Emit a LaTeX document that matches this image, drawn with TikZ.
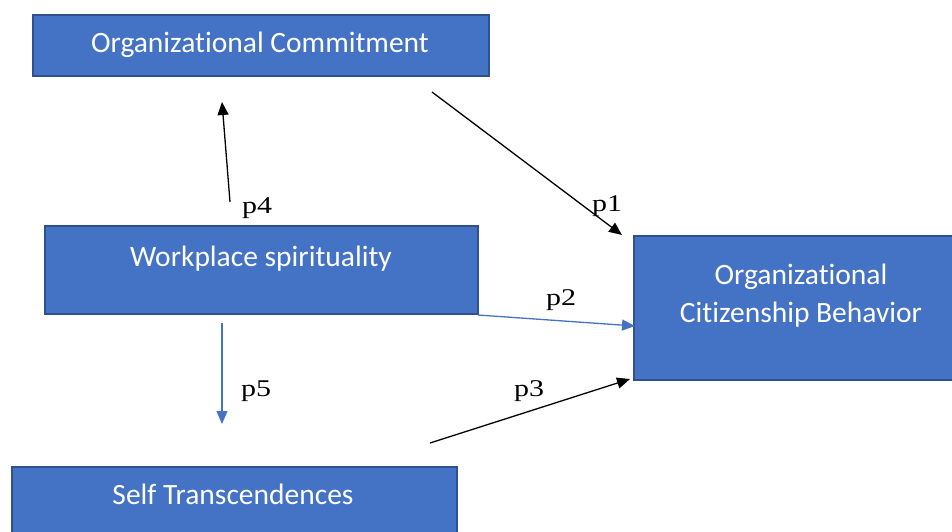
\documentclass[tikz,border=0pt]{standalone}
\usepackage{fontspec}
\setmainfont{Liberation Serif}
\newfontfamily\boxfont[Ligatures={NoCommon}]{Carlito}
\usetikzlibrary{arrows.meta}
\definecolor{boxblue}{HTML}{4472C4}
\definecolor{boxedge}{HTML}{2F528F}
\newcommand{\plab}[1]{\scalebox{1.25}[1]{#1}}
\tikzset{
  boxshape/.style={draw=boxedge, line width=1.2pt, fill=boxblue},
  boxtext/.style={text=white, font=\boxfont\fontsize{29.5}{38}\selectfont, inner sep=0pt, align=center},
  plabel/.style={font=\fontsize{24}{28}\selectfont, inner sep=0pt},
  blackarrow/.style={draw=black, line width=1.3pt, -{Triangle[length=13pt,width=11pt]}},
  bluearrow/.style={draw=boxblue, line width=1.3pt, -{Triangle[length=13pt,width=11pt]}}
}
\begin{document}
\begin{tikzpicture}[x=1pt,y=-1pt]
\useasboundingbox (0,0) rectangle (952,531);
\begin{scope}
\clip (0,0) rectangle (952,531);
% boxes
\draw[boxshape] (33,15) rectangle (489,76) node[midway] (oc) {};
\draw[boxshape] (45,226) rectangle (478,314) node[midway] (ws) {};
\draw[boxshape] (634,236) rectangle (968,380) node[midway] (ocb) {};
\draw[boxshape] (12,467) rectangle (457,545) node[midway] (st) {};
\end{scope}
% texts
\node[boxtext] (octext) at (260,45) {Organizational Commitment};
\node[boxtext] (wstext) at (261,259) {Workplace spirituality};
\node[boxtext] (ocbtext) at (801,296) {Organizational\\Citizenship Behavior};
\node[boxtext] (sttext) at (233,494) {Self Transcendences};
% arrow end points
\coordinate (p4s) at (230,202);
\coordinate (p4e) at (222,102);
\coordinate (p1s) at (432,92);
\coordinate (p1e) at (622,235);
\coordinate (p2s) at (478,315);
\coordinate (p2e) at (635,326);
\coordinate (p5s) at (222,323);
\coordinate (p5e) at (222,424);
\coordinate (p3s) at (430,443);
\coordinate (p3e) at (630,379);
\draw[blackarrow] (p4s) -- (p4e);
\draw[blackarrow] (p1s) -- (p1e);
\draw[bluearrow] (p2s) -- (p2e);
\draw[bluearrow] (p5s) -- (p5e);
\draw[blackarrow] (p3s) -- (p3e);
% labels
\node[plabel] (l4) at (257,208) {\plab{p4}};
\node[plabel] (l1) at (607,206) {\plab{p1}};
\node[plabel] (l2) at (561,300) {\plab{p2}};
\node[plabel] (l5) at (256,391) {\plab{p5}};
\node[plabel] (l3) at (529,391) {\plab{p3}};
\end{tikzpicture}
\end{document}
